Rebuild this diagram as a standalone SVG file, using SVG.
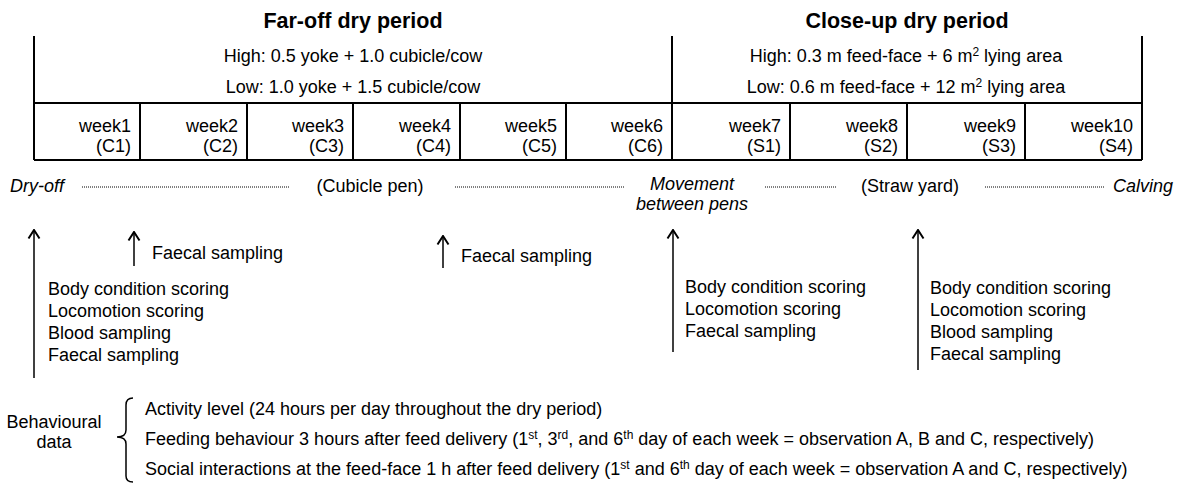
<svg xmlns="http://www.w3.org/2000/svg" width="1179" height="486" viewBox="0 0 1179 486">
<style>
text{font-family:"Liberation Sans",Arial,sans-serif;font-size:18px;fill:#000}
.title{font-size:21.5px;font-weight:bold}
.it{font-style:italic}
.tb{stroke:#000;stroke-width:2;fill:none}
.dot{stroke:#000;stroke-width:1;stroke-dasharray:1 1;fill:none}
.arr{stroke:#000;stroke-width:1.5;fill:none;marker-end:url(#ah)}
.r{text-anchor:end}
.m{text-anchor:middle}
.sup{font-size:12px}
</style>
<defs>
<marker id="ah" markerUnits="userSpaceOnUse" markerWidth="12" markerHeight="14" viewBox="0 0 12 14" refX="10.5" refY="7" orient="auto">
<path d="M2,1.5 L10.5,7 L2,12.5" fill="none" stroke="#000" stroke-width="2"/>
</marker>
</defs>

<g id="table">
<text class="title m" x="353" y="28">Far-off dry period</text>
<text class="title m" x="907" y="28">Close-up dry period</text>
<path class="tb" d="M34,36 V160 M672,36 V160 M1142,36 V160 M34,103 H1142 M34,160 H1142"/>
<path class="tb" d="M140,103 V160 M247,103 V160 M353,103 V160 M460,103 V160 M566,103 V160 M790,103 V160 M907,103 V160 M1025,103 V160"/>
<text class="m" x="353" y="62">High: 0.5 yoke + 1.0 cubicle/cow</text>
<text class="m" x="353" y="93">Low: 1.0 yoke + 1.5 cubicle/cow</text>
<text class="m" x="906" y="62">High: 0.3 m feed-face + 6 m<tspan class="sup" dy="-6">2</tspan><tspan dy="6"> lying area</tspan></text>
<text class="m" x="906" y="93">Low: 0.6 m feed-face + 12 m<tspan class="sup" dy="-6">2</tspan><tspan dy="6"> lying area</tspan></text>
</g>

<g id="weeks">
<text class="r" x="131" y="132">week1</text><text class="r" x="131" y="152">(C1)</text>
<text class="r" x="238" y="132">week2</text><text class="r" x="238" y="152">(C2)</text>
<text class="r" x="344" y="132">week3</text><text class="r" x="344" y="152">(C3)</text>
<text class="r" x="451" y="132">week4</text><text class="r" x="451" y="152">(C4)</text>
<text class="r" x="557" y="132">week5</text><text class="r" x="557" y="152">(C5)</text>
<text class="r" x="663" y="132">week6</text><text class="r" x="663" y="152">(C6)</text>
<text class="r" x="781" y="132">week7</text><text class="r" x="781" y="152">(S1)</text>
<text class="r" x="898" y="132">week8</text><text class="r" x="898" y="152">(S2)</text>
<text class="r" x="1016" y="132">week9</text><text class="r" x="1016" y="152">(S3)</text>
<text class="r" x="1133" y="132">week10</text><text class="r" x="1133" y="152">(S4)</text>
</g>

<g id="timeline">
<text class="it" x="10" y="192">Dry-off</text>
<text class="m" x="370" y="192">(Cubicle pen)</text>
<text class="it m" x="692" y="190">Movement</text>
<text class="it m" x="692" y="210">between pens</text>
<text class="m" x="910" y="192">(Straw yard)</text>
<text class="it r" x="1173" y="192">Calving</text>
</g>

<g id="connectors">
<path class="dot" d="M82,187 H290 M455,187 H625 M765,187 H836 M985,187 H1104"/>
<line class="arr" x1="34" y1="378" x2="34" y2="230"/>
<line class="arr" x1="134" y1="266" x2="134" y2="232"/>
<line class="arr" x1="443" y1="268" x2="443" y2="236"/>
<line class="arr" x1="673" y1="352" x2="673" y2="230"/>
<line class="arr" x1="918" y1="370" x2="918" y2="230"/>
<path d="M133,398 Q126,398 126,405 V430 Q126,437 117,437 Q126,437 126,444 V476 Q126,482 133,482" fill="none" stroke="#000" stroke-width="1.5"/>
</g>

<g id="samples">
<text x="152" y="259">Faecal sampling</text>
<text x="461" y="262">Faecal sampling</text>
<text x="48" y="295">Body condition scoring</text>
<text x="48" y="317">Locomotion scoring</text>
<text x="48" y="339">Blood sampling</text>
<text x="48" y="361">Faecal sampling</text>
<text x="685" y="293">Body condition scoring</text>
<text x="685" y="315">Locomotion scoring</text>
<text x="685" y="337">Faecal sampling</text>
<text x="930" y="294">Body condition scoring</text>
<text x="930" y="316">Locomotion scoring</text>
<text x="930" y="338">Blood sampling</text>
<text x="930" y="360">Faecal sampling</text>
</g>

<g id="behaviour">
<text class="m" x="54" y="428">Behavioural</text>
<text class="m" x="54" y="448">data</text>
<text x="145" y="415">Activity level (24 hours per day throughout the dry period)</text>
<text x="145" y="445">Feeding behaviour 3 hours after feed delivery (1<tspan class="sup" dy="-6">st</tspan><tspan dy="6">, 3</tspan><tspan class="sup" dy="-6">rd</tspan><tspan dy="6">, and 6</tspan><tspan class="sup" dy="-6">th</tspan><tspan dy="6"> day of each week = observation A, B and C, respectively)</tspan></text>
<text x="145" y="475">Social interactions at the feed-face 1 h after feed delivery (1<tspan class="sup" dy="-6">st</tspan><tspan dy="6"> and 6</tspan><tspan class="sup" dy="-6">th</tspan><tspan dy="6"> day of each week = observation A and C, respectively)</tspan></text>
</g>
</svg>
